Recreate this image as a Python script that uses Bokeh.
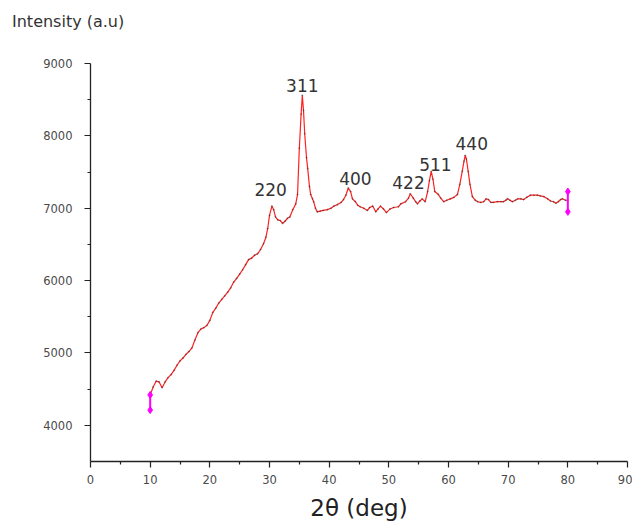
from bokeh.plotting import figure
from bokeh.models import FixedTicker, Range1d, ColumnDataSource, Div
from bokeh.layouts import column
from bokeh.core.properties import value
from bokeh.embed import file_html
from bokeh.resources import INLINE

# ---- data ----
two_theta = [10.0, 10.5, 11.0, 11.5, 12.0, 12.5, 13.0, 13.5, 14.0, 14.5, 15.0, 15.5, 16.0, 16.5,
             17.0, 17.5, 18.0, 18.5, 19.0, 19.5, 20.0, 20.5, 21.0, 21.5, 22.0, 22.5, 23.0, 23.5,
             24.0, 24.5, 25.0, 25.5, 26.0, 26.5, 27.0, 27.5, 28.0, 28.5, 29.0, 29.4, 29.7, 30.0,
             30.4, 30.7, 31.0, 31.4, 31.8, 32.2, 32.6, 33.0, 33.4, 33.9, 34.4, 34.7, 35.0, 35.3,
             35.5, 35.7, 35.9, 36.2, 36.4, 36.7, 36.9, 37.2, 37.4, 37.7, 38.0, 38.5, 39.0, 39.7,
             40.3, 40.8, 41.4, 42.0, 42.4, 42.8, 43.2, 43.6, 43.9, 44.4, 44.8, 45.2, 45.8, 46.4,
             46.8, 47.3, 47.8, 48.2, 48.6, 49.1, 49.6, 50.2, 50.8, 51.6, 52.0, 52.8, 53.3, 53.6,
             54.1, 54.5, 54.8, 55.2, 55.6, 56.1, 56.5, 56.8, 57.1, 57.4, 57.7, 58.3, 58.7, 59.2,
             59.7, 60.3, 60.9, 61.5, 61.9, 62.3, 62.6, 62.8, 63.0, 63.3, 63.6, 64.0, 64.5, 64.9,
             65.4, 65.9, 66.3, 66.7, 67.1, 67.5, 68.2, 68.8, 69.2, 69.6, 69.9, 70.3, 70.7, 71.2,
             71.6, 72.1, 72.6, 73.1, 73.7, 74.3, 74.9, 75.4, 76.0, 76.6, 77.1, 77.6, 78.0, 78.4,
             78.8, 79.1, 79.6, 80.0]
intensity = [4420, 4530, 4610, 4600, 4520, 4600, 4660, 4700, 4760, 4830, 4890, 4930, 4980, 5020,
             5070, 5180, 5280, 5330, 5350, 5380, 5450, 5560, 5620, 5690, 5740, 5790, 5840, 5900,
             5980, 6030, 6090, 6150, 6220, 6290, 6310, 6350, 6370, 6430, 6510, 6600, 6720, 6900,
             7030, 6980, 6880, 6840, 6830, 6790, 6820, 6860, 6880, 6980, 7060, 7190, 7830, 8300,
             8560, 8350, 8030, 7700, 7550, 7300, 7190, 7130, 7090, 7000, 6950, 6960, 6970, 6980,
             7000, 7030, 7050, 7080, 7120, 7180, 7280, 7230, 7130, 7090, 7040, 7020, 7000, 6970,
             7010, 7030, 6950, 6990, 7030, 6990, 6940, 6990, 7010, 7020, 7060, 7090, 7140, 7200,
             7140, 7090, 7060, 7100, 7130, 7090, 7230, 7380, 7510, 7400, 7230, 7190, 7140, 7090,
             7110, 7130, 7150, 7190, 7330, 7510, 7650, 7730, 7680, 7510, 7330, 7160, 7110, 7090,
             7080, 7090, 7130, 7120, 7080, 7080, 7090, 7090, 7090, 7110, 7130, 7110, 7090, 7110,
             7130, 7130, 7120, 7150, 7180, 7180, 7180, 7170, 7160, 7130, 7100, 7090, 7070, 7090,
             7120, 7130, 7110, 7110]

peak_labels = ["220", "311", "400", "422", "511", "440"]
label_x = [30.2, 35.5, 44.4, 53.3, 57.8, 63.9]
label_y = [7260, 8700, 7410, 7355, 7605, 7900]

cursor_x = [10, 80]
cursor_lo = [4210, 6950]
cursor_hi = [4420, 7230]

x_ticks = [0, 10, 20, 30, 40, 50, 60, 70, 80, 90]
x_minor = [5, 15, 25, 35, 45, 55, 65, 75, 85]
y_ticks = [4000, 5000, 6000, 7000, 8000, 9000]
y_minor = [4500, 5500, 6500, 7500, 8500]

FONT = "DejaVu Sans"
X_MIN, X_MAX, Y_MIN, Y_MAX = 0, 90, 3500, 9000

# caption above the plot (horizontal y-axis caption)
caption = Div(text="Intensity (a.u)", width=632, height=30, margin=0,
              styles={"font-family": FONT, "font-size": "16px", "color": "#333333",
                      "padding-left": "12px", "padding-top": "12px", "line-height": "19px",
                      "box-sizing": "border-box", "white-space": "nowrap"})

# ---- figure ----
p = figure(width=632, height=493, output_backend="svg", toolbar_location=None,
           x_range=Range1d(X_MIN, X_MAX), y_range=Range1d(Y_MIN, Y_MAX),
           min_border_left=90, min_border_right=5, min_border_top=33, min_border_bottom=10)
p.outline_line_color = None
p.xgrid.visible = False
p.ygrid.visible = False
p.background_fill_color = "white"
p.border_fill_color = "white"

for ax in (p.xaxis[0], p.yaxis[0]):
    ax.axis_line_color = "#222222"
    ax.axis_line_width = 1.3
    ax.major_tick_line_color = "#222222"
    ax.minor_tick_line_color = "#222222"
    ax.major_tick_line_width = 1.2
    ax.minor_tick_line_width = 1.2
    ax.major_tick_out = 6
    ax.major_tick_in = 0
    ax.minor_tick_out = 3
    ax.minor_tick_in = 0
    ax.major_label_text_font = FONT
    ax.major_label_text_font_size = "11.5px"
    ax.major_label_text_color = "#4a4a4a"

p.xaxis.ticker = FixedTicker(ticks=x_ticks, minor_ticks=x_minor)
p.yaxis.ticker = FixedTicker(ticks=y_ticks, minor_ticks=y_minor)
p.xaxis.major_label_standoff = 7
p.yaxis.major_label_standoff = 12
p.xaxis.axis_label = "2θ (deg)"
p.xaxis.axis_label_text_font = FONT
p.xaxis.axis_label_text_font_size = "23px"
p.xaxis.axis_label_text_font_style = "normal"
p.xaxis.axis_label_text_color = "#222222"
p.xaxis.axis_label_standoff = 8

src = ColumnDataSource(dict(x=two_theta, y=intensity))
p.line("x", "y", source=src, line_color="#ff2020", line_width=1.2)
p.scatter("x", "y", source=src, size=1.3, color="#333333", alpha=0.3)

# cursor markers (magenta)
p.segment(x0=cursor_x, y0=cursor_lo, x1=cursor_x, y1=cursor_hi, line_color="#ff00ff", line_width=2)
p.scatter(cursor_x, cursor_lo, marker="diamond", size=7, color="#ff00ff")
p.scatter(cursor_x, cursor_hi, marker="diamond", size=7, color="#ff00ff")

p.text(label_x, label_y, text=peak_labels, text_align="center", text_baseline="middle",
       text_font=value(FONT), text_font_size="17px", text_color="#333333")

layout = column(caption, p, spacing=0)
open("out.html", "w").write(file_html(layout, INLINE))
